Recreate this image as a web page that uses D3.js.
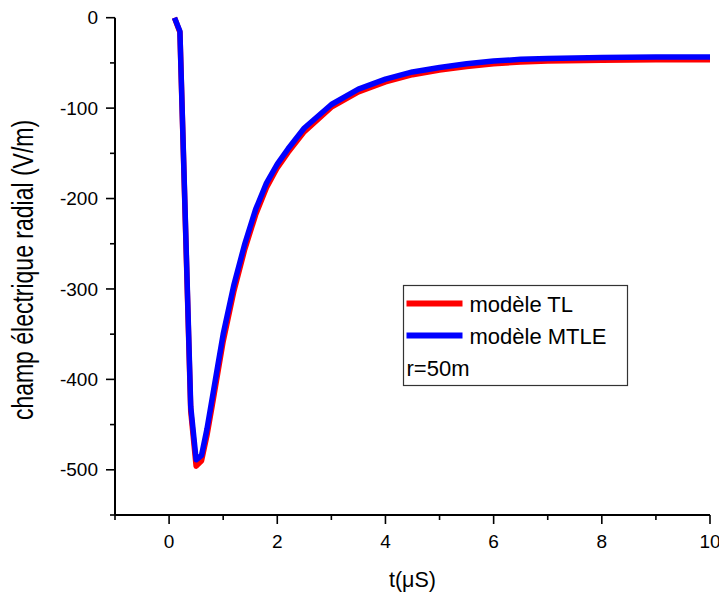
<!DOCTYPE html>
<html>
<head>
<meta charset="utf-8">
<script src="https://cdn.jsdelivr.net/npm/d3@7/dist/d3.min.js"></script>
<style>
  html, body { margin: 0; padding: 0; background: #fff; }
  svg { display: block; font-family: "Liberation Sans", Arial, sans-serif; }
</style>
</head>
<body>
<svg id="chart" width="719" height="595"></svg>
<script>
// Time axis (µs) shared by both models
const time = [0.1, 0.2, 0.3, 0.4, 0.5, 0.6, 0.7, 0.8, 0.9, 1.0, 1.2, 1.4, 1.6, 1.8, 2.0, 2.2, 2.5, 3.0, 3.5, 4.0, 4.5, 5.0, 5.5, 6.0, 6.5, 7.0, 8.0, 9.0, 10.0];
// Radial electric field (V/m) at r = 50 m
const fieldTL   = [0, -16, -225, -435, -496, -490, -462, -428, -393, -358, -302, -256, -218, -188, -166, -149, -126, -99, -82, -71, -63, -58, -54, -51, -49, -48, -47, -46.5, -46.5];
const fieldMTLE = [0, -15, -222, -430, -489, -484, -455, -420, -385, -350, -295, -250, -212, -183, -162, -145, -122, -96, -79, -68, -60, -55, -51, -48, -46, -45, -44, -43.5, -43.5];

const seriesNames  = ["modèle TL", "modèle MTLE"];
const seriesColors = ["#ff0000", "#0000ff"];
const xTickValues = [0, 2, 4, 6, 8, 10];
const yTickValues = [0, -100, -200, -300, -400, -500];
const xLabel = "t(μS)";
const yLabel = "champ électrique radial (V/m)";
const noteText = "r=50m";

const svg = d3.select("#chart");
const plot = { left: 115, right: 710, top: 17.7, bottom: 515 };

const x = d3.scaleLinear().domain([-1, 10]).range([plot.left, plot.right]);
const y = d3.scaleLinear().domain([-550, 0]).range([plot.bottom, plot.top]);

// Bottom axis: major ticks with labels, minor ticks in between
const xAxisG = svg.append("g").attr("transform", `translate(0,${plot.bottom})`);
xAxisG.append("line").attr("x1", x(-1)).attr("x2", x(10)).attr("stroke", "#000").attr("stroke-width", 2);
xAxisG.selectAll(".minor").data(d3.range(-1, 10, 2)).join("line")
  .attr("x1", d => x(d)).attr("x2", d => x(d)).attr("y1", 0).attr("y2", 5)
  .attr("stroke", "#000").attr("stroke-width", 1.6);
xAxisG.selectAll(".major").data(xTickValues).join("line")
  .attr("x1", d => x(d)).attr("x2", d => x(d)).attr("y1", 0).attr("y2", 9)
  .attr("stroke", "#000").attr("stroke-width", 1.6);
xAxisG.selectAll("text").data(xTickValues).join("text")
  .attr("x", d => x(d)).attr("y", 33)
  .attr("text-anchor", "middle").attr("font-size", 19).attr("fill", "#000")
  .text(d => d);

// Left axis
const yAxisG = svg.append("g").attr("transform", `translate(${plot.left},0)`);
yAxisG.append("line").attr("y1", y(0)).attr("y2", y(-550)).attr("stroke", "#000").attr("stroke-width", 2);
yAxisG.selectAll(".minor").data(d3.range(-550, 0, 100)).join("line")
  .attr("y1", d => y(d)).attr("y2", d => y(d)).attr("x1", 0).attr("x2", -5)
  .attr("stroke", "#000").attr("stroke-width", 1.6);
yAxisG.selectAll(".major").data(yTickValues).join("line")
  .attr("y1", d => y(d)).attr("y2", d => y(d)).attr("x1", 0).attr("x2", -9)
  .attr("stroke", "#000").attr("stroke-width", 1.6);
yAxisG.selectAll("text").data(yTickValues).join("text")
  .attr("x", -17).attr("y", d => y(d)).attr("dy", "0.35em")
  .attr("text-anchor", "end").attr("font-size", 19).attr("fill", "#000")
  .text(d => d);

// Axis titles
svg.append("text").attr("x", x(4.5)).attr("y", 587)
  .attr("text-anchor", "middle").attr("font-size", 21.5).attr("fill", "#000").text(xLabel);
svg.append("text").attr("transform", "translate(33,270) rotate(-90) scale(1,1.25)")
  .attr("text-anchor", "middle").attr("font-size", 23).attr("fill", "#000").text(yLabel);

// Curves: TL drawn first, MTLE on top
const line = d3.line().x(d => x(d[0])).y(d => y(d[1]));
[fieldTL, fieldMTLE].forEach((vals, i) => {
  svg.append("path")
    .datum(time.map((t, k) => [t, vals[k]]))
    .attr("d", line)
    .attr("fill", "none")
    .attr("stroke", seriesColors[i])
    .attr("stroke-width", 5.5)
    .attr("stroke-linejoin", "round");
});

// Legend
const lg = svg.append("g").attr("transform", "translate(403.5,285.5)");
lg.append("rect").attr("width", 224).attr("height", 100)
  .attr("fill", "#fff").attr("stroke", "#333").attr("stroke-width", 1.2);
seriesNames.forEach((name, i) => {
  const cy = 18 + i * 32;
  lg.append("line").attr("x1", 3).attr("x2", 59).attr("y1", cy).attr("y2", cy)
    .attr("stroke", seriesColors[i]).attr("stroke-width", 6);
  lg.append("text").attr("x", 66).attr("y", cy + 8)
    .attr("font-size", 22).attr("fill", "#000").text(name);
});
lg.append("text").attr("x", 3).attr("y", 90).attr("font-size", 22).attr("fill", "#000").text(noteText);
</script>
</body>
</html>
